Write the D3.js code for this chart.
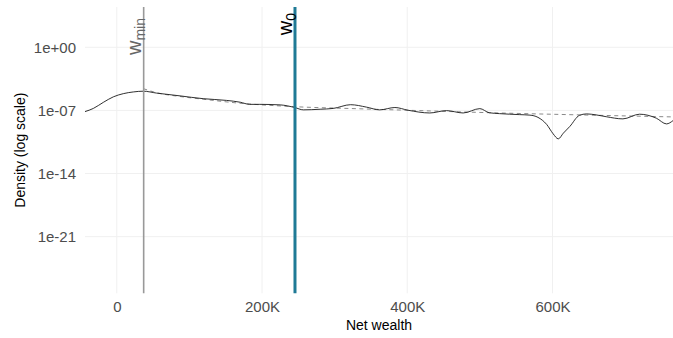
<!DOCTYPE html>
<html>
<head>
<meta charset="utf-8">
<script src="https://cdn.jsdelivr.net/npm/d3@7"></script>
<style>
  html, body { margin: 0; padding: 0; background: #fff; }
  svg { display: block; font-family: "Liberation Sans", Arial, Helvetica, sans-serif; }
</style>
</head>
<body>
<svg id="chart" width="673" height="338"></svg>
<script>
// Kernel density estimate of net wealth (x in dollars, density per dollar)
const densityWealth = [-43800, -32300, -18600, -4800, 8900, 22700, 36500, 54900, 87000, 119000,
  151000, 170000, 183000, 197000, 225000, 245000, 257000, 280000, 298000, 322000,
  344000, 362000, 383000, 401000, 431000, 454000, 477000, 500000, 513000, 527000,
  555000, 569000, 580000, 592000, 601000, 608000, 615000, 624000, 637000, 647000,
  660000, 674000, 697000, 720000, 743000, 757000, 766000];
const densityValue = [7.4e-8, 1.66e-7, 7.8e-7, 3.2e-6, 7.2e-6, 1.12e-5, 1.35e-5, 8.3e-6, 4.1e-6, 2.0e-6,
  1.29e-6, 8.1e-7, 4.7e-7, 4.7e-7, 4.1e-7, 2.1e-7, 1.15e-7, 1.35e-7, 1.66e-7, 4.3e-7,
  2.3e-7, 1.15e-7, 2.1e-7, 1.05e-7, 5.2e-8, 9.5e-8, 5.2e-8, 1.58e-7, 5.5e-8, 4.4e-8,
  3.4e-8, 3.0e-8, 1.7e-8, 2.8e-9, 2.5e-10, 7e-11, 3e-10, 1.7e-9, 2.8e-8, 4.1e-8,
  3.2e-8, 2.0e-8, 1.15e-8, 3.8e-8, 1.38e-8, 3.2e-9, 7.4e-9];

// Fitted Pareto tail above w_min
const paretoWealth = [36500, 55000, 87000, 119000, 165000, 245000, 330000, 417000, 527000, 637000, 766000];
const paretoValue = [2.6e-5, 9.1e-6, 3.5e-6, 1.74e-6, 6.8e-7, 2.6e-7, 1.55e-7, 9.5e-8, 5.2e-8, 3.2e-8, 1.9e-8];

// Reference thresholds
const wMin = 37000;
const w0 = 245400;

// Axis ticks
const xTicks = [0, 200000, 400000, 600000];
const xTickLabels = ["0", "200K", "400K", "600K"];
const yTicks = [1, 1e-7, 1e-14, 1e-21];
const yTickLabels = ["1e+00", "1e-07", "1e-14", "1e-21"];
const yDomain = [5.2e-28, 2.95e4];

const svg = d3.select("#chart");
const panel = { left: 85, right: 673, top: 7, bottom: 293.3 };

const x = d3.scaleLinear()
  .domain(d3.extent(densityWealth))
  .range([panel.left, panel.right]);
const y = d3.scaleLog()
  .domain(yDomain)
  .range([panel.bottom, panel.top]);

// Gridlines
const grid = svg.append("g").attr("stroke", "#f0f0f0").attr("stroke-width", 1);
grid.selectAll("line.gx").data(xTicks).join("line")
  .attr("x1", d => x(d)).attr("x2", d => x(d))
  .attr("y1", panel.top).attr("y2", panel.bottom);
grid.selectAll("line.gy").data(yTicks).join("line")
  .attr("x1", panel.left).attr("x2", panel.right)
  .attr("y1", d => y(d)).attr("y2", d => y(d));

// Axes (labels only, no domain line or tick marks)
const xAxis = d3.axisBottom(x).tickValues(xTicks)
  .tickFormat((d, i) => xTickLabels[i]).tickSize(0).tickPadding(8);
svg.append("g").attr("transform", `translate(0,${panel.bottom})`).call(xAxis)
  .call(g => g.select(".domain").remove())
  .call(g => g.selectAll("text").attr("fill", "#4d4d4d")
    .style("font-size", "15px").style("font-family", "inherit"));

const yAxis = d3.axisLeft(y).tickValues(yTicks)
  .tickFormat((d, i) => yTickLabels[i]).tickSize(0).tickPadding(9);
svg.append("g").attr("transform", `translate(${panel.left},0)`).call(yAxis)
  .call(g => g.select(".domain").remove())
  .call(g => g.selectAll("text").attr("fill", "#4d4d4d")
    .style("font-size", "15px").style("font-family", "inherit"));

// Axis titles
svg.append("text")
  .attr("x", (panel.left + panel.right) / 2).attr("y", 330)
  .attr("text-anchor", "middle").attr("font-size", 14).attr("fill", "#000")
  .text("Net wealth");
svg.append("text")
  .attr("transform", `translate(25,${(panel.top + panel.bottom) / 2}) rotate(-90)`)
  .attr("text-anchor", "middle").attr("font-size", 14).attr("fill", "#000")
  .text("Density (log scale)");

// Density curve and Pareto fit
svg.append("path")
  .attr("d", d3.line().curve(d3.curveMonotoneX)
    .x((d, i) => x(paretoWealth[i])).y(d => y(d))(paretoValue))
  .attr("fill", "none").attr("stroke", "#8a8a8a").attr("stroke-width", 1)
  .attr("stroke-dasharray", "4,3.5");
svg.append("path")
  .attr("d", d3.line().curve(d3.curveMonotoneX)
    .x((d, i) => x(densityWealth[i])).y(d => y(d))(densityValue))
  .attr("fill", "none").attr("stroke", "#1a1a1a").attr("stroke-width", 0.9);

// Threshold lines
svg.append("line")
  .attr("x1", x(wMin)).attr("x2", x(wMin))
  .attr("y1", panel.top).attr("y2", panel.bottom)
  .attr("stroke", "#999999").attr("stroke-width", 1.6);
svg.append("line")
  .attr("x1", x(w0)).attr("x2", x(w0))
  .attr("y1", panel.top).attr("y2", panel.bottom)
  .attr("stroke", "#1f7a96").attr("stroke-width", 3);

// Threshold labels
function thresholdLabel(xv, top, sub, color) {
  const t = svg.append("text")
    .attr("transform", `translate(${x(xv) - 3},${top}) rotate(-90)`)
    .attr("text-anchor", "end").attr("fill", color).attr("font-size", 20);
  t.append("tspan").text("w");
  t.append("tspan").attr("font-size", 14).attr("dy", 4).text(sub);
}
thresholdLabel(wMin, 18, "min", "#666666");
thresholdLabel(w0, 13, "0", "#000000");
</script>
</body>
</html>
